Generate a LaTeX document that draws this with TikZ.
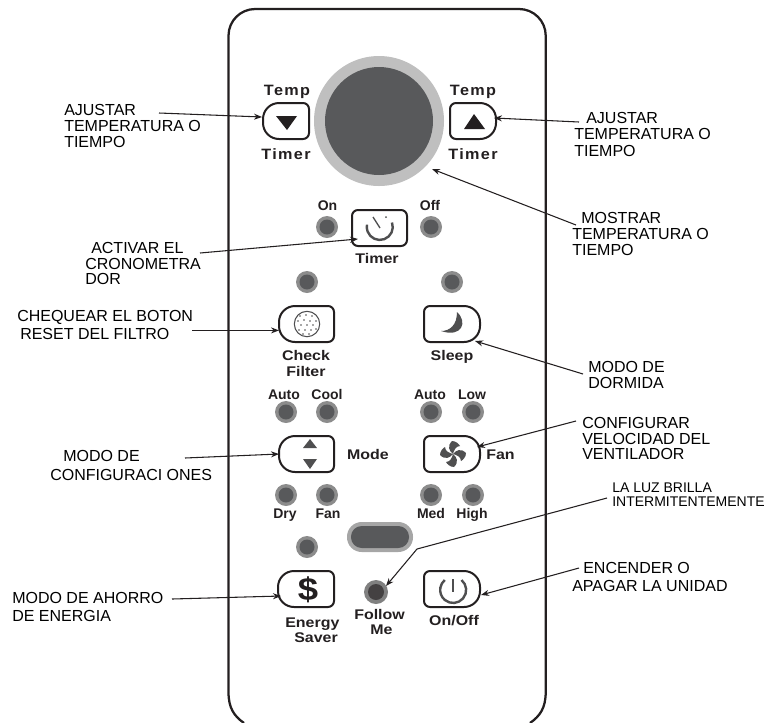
\documentclass[tikz,border=0pt]{standalone}
\usepackage{fontspec}
\setmainfont{Liberation Sans}
\usetikzlibrary{arrows.meta}
\newfontfamily\widefont[FakeStretch=1.14]{Liberation Sans Bold}
\newfontfamily\tempfont[FakeStretch=1.08,LetterSpace=9]{Liberation Sans Bold}
\definecolor{dark}{HTML}{58595B}
\definecolor{glyph}{HTML}{4F4F50}
\definecolor{ink}{HTML}{231F20}
\tikzset{
 x=0.75pt,y=-0.75pt,
 btn/.style={draw=ink,line width=1.5pt,fill=white},
 small/.style={font=\fontsize{10.5pt}{12pt}\selectfont\bfseries,text=ink,inner sep=0pt,anchor=base},
 big/.style={font=\fontsize{10.5pt}{12pt}\selectfont\widefont,text=ink,inner sep=0pt,anchor=base},
 temp/.style={font=\fontsize{11.25pt}{12pt}\selectfont\tempfont,text=ink,inner sep=0pt,anchor=base},
 note/.style={font=\fontsize{12pt}{12pt}\selectfont,text=black,align=left,inner sep=0pt,anchor=north west},
 conn/.style={draw=ink,line width=0.8pt,-{Stealth[length=6pt,width=4.5pt]}},
 ledout/.style={circle,fill=black!45,minimum size=16.5pt,inner sep=0pt},
}
\newcommand{\led}[3]{\node[ledout] (#1) at (#2,#3) {}; \fill[dark] (#2,#3) circle[radius=7.5];}
% button with a large round left side
\newcommand{\btnL}[5]{\draw[btn] ({#2+16},#3) -- ({#4-6},#3) arc[start angle=-90,end angle=0,radius=6] -- (#4,{#5-6}) arc[start angle=0,end angle=90,radius=6] -- ({#2+16},#5) arc[start angle=90,end angle=180,radius=16] -- (#2,{#3+16}) arc[start angle=180,end angle=270,radius=16] -- cycle;
 \coordinate (#1) at ({(#2+#4)/2},{(#3+#5)/2});}
% button with a large round right side
\newcommand{\btnR}[5]{\draw[btn] ({#2+6},#3) -- ({#4-16},#3) arc[start angle=-90,end angle=0,radius=16] -- (#4,{#5-16}) arc[start angle=0,end angle=90,radius=16] -- ({#2+6},#5) arc[start angle=90,end angle=180,radius=6] -- (#2,{#3+6}) arc[start angle=180,end angle=270,radius=6] -- cycle;
 \coordinate (#1) at ({(#2+#4)/2},{(#3+#5)/2});}
\begin{document}
\begin{tikzpicture}
\useasboundingbox (0,0) rectangle (766,722);
% body
\draw[line width=1.7pt,draw=ink] (244,723) .. controls (234,716) and (228.5,708) .. (228.5,692)
  [rounded corners=20pt] -- (228.5,9) -- (545.7,9) [sharp corners] -- (545.7,692) .. controls (545.7,708) and (540,716) .. (530,723);
% display
\fill[black!25] (379,121) circle[radius=65];
\fill[dark] (379,121) circle[radius=54];
% LEDs
\led{lOn}{327}{227}\led{lOff}{431}{227}
\led{lChk}{307}{282}\led{lSlp}{452}{282}
\led{lA}{286}{412}\led{lC}{327}{412}\led{lB}{431}{412}\led{lL}{473}{412}
\led{lD}{286}{495}\led{lF}{327}{495}\led{lM}{431}{495}\led{lH}{473}{495}
\led{lE}{307}{547}
% follow me sensor
\node[circle,fill=black!50,minimum size=18pt,inner sep=0pt] (sensor) at (376,592) {};
\fill[ink!85] (376,592) circle[radius=8];
% pill
\fill[black!35,rounded corners=11pt] (347,522) rectangle (413,552);
\fill[dark,rounded corners=8pt] (351,526) rectangle (409,548);
% buttons
\btnL{bDown}{263}{103}{309}{139}
\btnR{bUp}{450}{103}{496}{139}
\draw[btn,rounded corners=4.5pt] (352,210) rectangle (407,246);
\btnL{bChk}{279}{306}{334}{342}
\btnR{bSlp}{424}{306}{480}{342}
\btnL{bMode}{279}{436}{334}{472}
\btnR{bFan}{424}{436}{480}{472}
\btnL{bSave}{278}{571}{334}{607}
\btnR{bPow}{424}{571}{480}{607}
% glyphs
\fill[ink] (276,116) -- (297,116) -- (287,130) -- cycle;
\fill[ink] (464,129) -- (485,129) -- (474,114) -- cycle;
\draw[glyph,line width=1.8pt] (392,222.5) arc[start angle=-20,end angle=190,radius=13];
\draw[glyph,line width=1pt] (373,217) -- (380,228);
\fill[glyph] (386,217) circle[radius=1];
\draw[glyph,line width=0.8pt] (307,324) circle[radius=12.7];
\foreach \a/\b in {300/316,306/315,312/316,298/321,304/320,310/321,316/321,301/325,307/325,313/325,299/330,305/330,311/330,316/329,303/334,309/334}
  \fill[glyph] (\a,\b) circle[radius=0.8];
\fill[glyph] (457,312) .. controls (468,322) and (462,338) .. (441,331) .. controls (450,331) and (457,325) .. (457,312) -- cycle;
\fill[glyph] (310,439) -- (317,448) -- (303,448) -- cycle;
\fill[glyph] (310,469) -- (317,459) -- (303,459) -- cycle;
\foreach \r in {0,90,180,270}
  \fill[glyph,shift={(453,454)},rotate=\r] (0,0) .. controls (-4,-3) and (-6,-8) .. (-1,-13) .. controls (3,-13) and (6,-10) .. (7,-8) .. controls (3,-8) and (1,-4) .. (0,0) -- cycle;
\node[font=\fontsize{24pt}{26pt}\selectfont\widefont,text=ink,inner sep=0pt] (dollar) at (308,590) {\$};
\draw[glyph,line width=1.8pt] (461.5,580) arc[start angle=-50,end angle=230,radius=13];
\draw[glyph,line width=1.8pt] (453,579) -- (453,592);
% button labels
\node[temp] (t1) at (287,95) {Temp};
\node[temp] (t2) at (286,159) {Timer};
\node[temp] (t3) at (473,95) {Temp};
\node[temp] (t4) at (473,159) {Timer};
\node[small] (t5) at (327.5,210) {On};
\node[small] (t6) at (430,210) {Off};
\node[big] (t7) at (377,263) {Timer};
\node[big,align=center,anchor=north] (t8) at (306,350) {Check\\Filter};
\node[big] (t9) at (452,360) {Sleep};
\node[small] (t10) at (284,399) {Auto};
\node[small] (t11) at (327,399) {Cool};
\node[small] (t12) at (430,399) {Auto};
\node[small] (t13) at (472,399) {Low};
\node[big] (t14) at (368,459) {Mode};
\node[big,anchor=base west] (t15) at (486,459) {Fan};
\node[small] (t16) at (285,518) {Dry};
\node[small] (t17) at (328,518) {Fan};
\node[small] (t18) at (431,518) {Med};
\node[small] (t19) at (472,518) {High};
\node[big,align=left,anchor=north west] (t20) at (285,618) {Energy\\[-1.2pt]\hspace*{6.75pt}Saver};
\node[big,align=left,anchor=north west] (t21) at (354,609) {Follow\\[-0.75pt]\hspace*{12pt}Me};
\node[big] (t22) at (454,625) {On/Off};
% notes
\node[note] (n1) at (64,104.5) {AJUSTAR\\TEMPERATURA O\\TIEMPO};
\node[note] (n2) at (574,112.5) {\hspace*{9pt}AJUSTAR\\TEMPERATURA O\\[0.4pt]TIEMPO};
\node[note] (n3) at (572,212.5) {\hspace*{6.75pt}MOSTRAR\\TEMPERATURA O\\[-0.4pt]TIEMPO};
\node[note] (n4) at (85,242.5) {\hspace*{4.5pt}ACTIVAR EL\\[-0.4pt]CRONOMETRA\\[-0.4pt]DOR};
\node[note] (n5) at (17,310.5) {CHEQUEAR EL BOTON\\[1.5pt]\hspace*{2.25pt}RESET DEL FILTRO};
\node[note] (n6) at (588,361.5) {MODO DE\\DORMIDA};
\node[note] (n7) at (50,450.5) {\hspace*{9.75pt}MODO DE\\[2.25pt]CONFIGURACI ONES};
\node[note] (n8) at (582,417.5) {CONFIGURAR\\[-0.4pt]VELOCIDAD DEL\\[-0.4pt]VENTILADOR};
\node[note,font=\fontsize{10.5pt}{10.5pt}\selectfont] (n9) at (612,483) {LA LUZ BRILLA\\INTERMITENTEMENTE};
\node[note] (n10) at (572,562.5) {\hspace*{8.25pt}ENCENDER O\\[1.5pt]APAGAR LA UNIDAD};
\node[note] (n11) at (12,592.5) {MODO DE AHORRO\\[1.5pt]DE ENERGIA};
% connector ends
\coordinate (a1) at (159,113); \coordinate (b1) at (262,117);
\coordinate (a2) at (579,122); \coordinate (b2) at (494,118);
\coordinate (a3) at (576,225); \coordinate (b3) at (432,169);
\coordinate (a4) at (200,253); \coordinate (b4) at (358,239);
\coordinate (a5) at (192,330.4); \coordinate (b5) at (279,330.4);
\coordinate (a6) at (583,374); \coordinate (b6) at (475,341);
\coordinate (a7) at (185,458); \coordinate (b7) at (279,454);
\coordinate (a8) at (576,421); \coordinate (b8) at (477,447);
\coordinate (a9) at (607,498); \coordinate (k9) at (417,549); \coordinate (b9) at (386,586);
\coordinate (a10) at (579,568); \coordinate (b10) at (481,595);
\coordinate (a11) at (172,599); \coordinate (b11) at (281,596);
\draw[conn] (a1) -- (b1);
\draw[conn] (a2) -- (b2);
\draw[conn] (a3) -- (b3);
\draw[conn] (a4) -- (b4);
\draw[conn] (a5) -- (b5);
\draw[conn] (a6) -- (b6);
\draw[conn] (a7) -- (b7);
\draw[conn] (a8) -- (b8);
\draw[conn] (a9) -- (k9) -- (b9);
\draw[conn] (a10) -- (b10);
\draw[conn] (a11) -- (b11);
\end{tikzpicture}
\end{document}
